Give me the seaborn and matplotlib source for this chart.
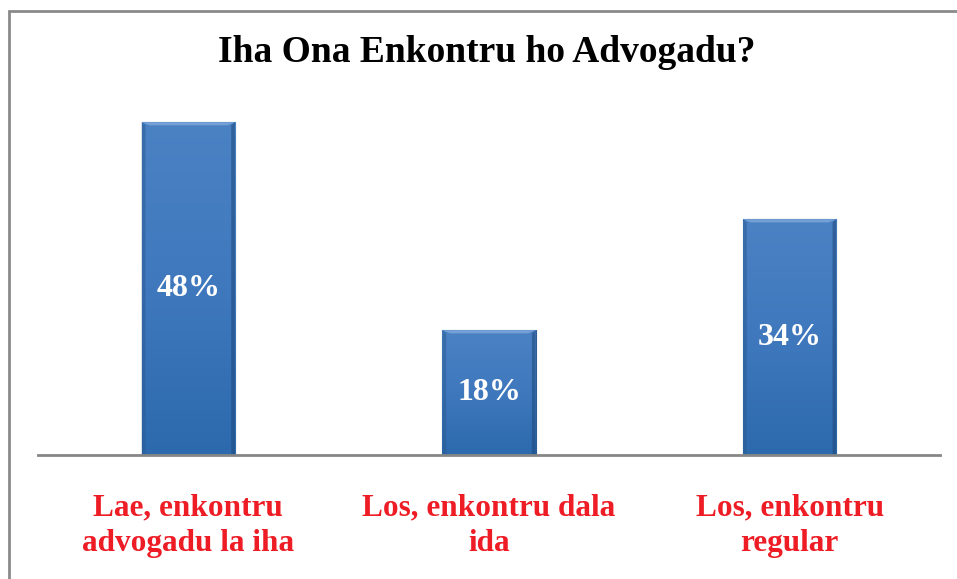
import matplotlib
matplotlib.use("Agg")
import matplotlib.pyplot as plt
import seaborn as sns
import numpy as np
import pandas as pd
from matplotlib.patches import Rectangle, Polygon
from matplotlib.colors import LinearSegmentedColormap

categories = ["Lae, enkontru\nadvogadu la iha", "Los, enkontru dala\nida", "Los, enkontru\nregular"]
values = [48, 18, 34]
value_labels = ["48%", "18%", "34%"]
title = "Iha Ona Enkontru ho Advogadu?"

sns.set_theme(style="white")
plt.rcParams['font.family'] = ['Liberation Serif', 'DejaVu Serif']

df = pd.DataFrame({"cat": categories, "val": values})

fig = plt.figure(figsize=(9.57, 5.79), dpi=100)
ax = fig.add_axes([38/957, 1-455/579, (940-38)/957, (455-100)/579])

sns.barplot(data=df, x="cat", y="val", ax=ax, color="#3a74b8", width=0.31, saturation=1)

ax.set_ylim(0, 51.2)
ax.set_xlim(-0.5, 2.5)

grad = np.linspace(0, 1, 256).reshape(-1, 1)
cmap = LinearSegmentedColormap.from_list("b", ["#2c69ad", "#3f78bd", "#4b82c4"])
for p in ax.patches:
    x0, y0 = p.get_x(), p.get_y()
    w, h = p.get_width(), p.get_height()
    im = ax.imshow(grad, extent=[x0, x0 + w, y0, y0 + h], origin="lower",
                   cmap=cmap, aspect="auto", zorder=p.get_zorder() + 0.1)
    im.set_clip_path(p)
    p.set_edgecolor("#2b5c93")
    p.set_linewidth(0.8)
    bw = w * 0.08
    bh = 0.45
    top = Polygon([[x0, y0 + h], [x0 + w, y0 + h], [x0 + w - bw, y0 + h - bh], [x0 + bw, y0 + h - bh]],
                  closed=True, facecolor="#7fa9dc", edgecolor="none", alpha=0.8, zorder=p.get_zorder() + 0.2)
    ax.add_patch(top)
    left = Polygon([[x0, y0 + h], [x0 + bw * 0.5, y0 + h - bh], [x0 + bw * 0.5, y0], [x0, y0]],
                   closed=True, facecolor="#2a5a92", edgecolor="none", alpha=0.5, zorder=p.get_zorder() + 0.2)
    right = Polygon([[x0 + w, y0 + h], [x0 + w - bw * 0.5, y0 + h - bh], [x0 + w - bw * 0.5, y0], [x0 + w, y0]],
                    closed=True, facecolor="#1f4c80", edgecolor="none", alpha=0.6, zorder=p.get_zorder() + 0.2)
    ax.add_patch(left)
    ax.add_patch(right)

for i, (v, lab) in enumerate(zip(values, value_labels)):
    ax.text(i, v / 2, lab, ha="center", va="center", color="white",
            fontsize=23, fontweight="bold", zorder=10)

for s in ["top", "right", "left"]:
    ax.spines[s].set_visible(False)
ax.spines["bottom"].set_color("#868686")
ax.spines["bottom"].set_linewidth(2)
ax.set_yticks([])
ax.set_xlabel("")
ax.set_ylabel("")
ax.tick_params(axis="x", length=0, pad=28)
for t in ax.get_xticklabels():
    t.set_color("#ee1c25")
    t.set_fontsize(22.5)
    t.set_fontweight("bold")
    t.set_linespacing(1.3)
    t.set_fontfamily(['Liberation Serif', 'DejaVu Serif'])

fig.text(487/957, 1 - 53/579, title, ha="center", va="center", fontsize=27,
         fontweight="bold", color="black")

fig.patches.append(Rectangle((9/957, -0.2), 1.2, 1.2 - 11/579, transform=fig.transFigure,
                             fill=False, edgecolor="#8a8a8a", linewidth=2))

fig.savefig("out.png", dpi=100)
